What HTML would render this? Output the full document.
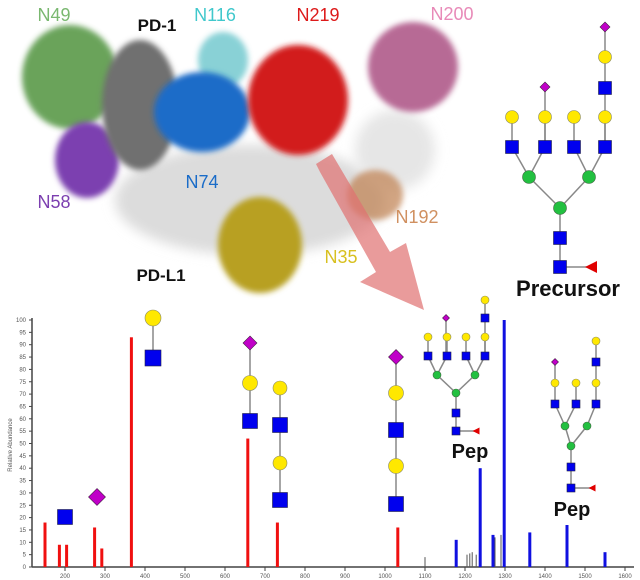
<!DOCTYPE html>
<html><head><meta charset="utf-8"><style>
html,body{margin:0;padding:0;background:#fff;width:640px;height:580px;overflow:hidden}
svg{display:block}
text{font-family:"Liberation Sans",sans-serif}
</style></head><body>
<svg id="root" width="640" height="580" viewBox="0 0 640 580">
<defs>
<filter id="bl" x="-50%" y="-50%" width="200%" height="200%"><feGaussianBlur stdDeviation="6"/></filter>
<filter id="bl2" x="-50%" y="-50%" width="200%" height="200%"><feGaussianBlur stdDeviation="3"/></filter>
</defs>
<g id="mol">
<ellipse cx="250" cy="200" rx="135" ry="55" fill="#dcdcdc" filter="url(#bl)"/>
<ellipse cx="395" cy="150" rx="40" ry="40" fill="#e6e6e6" filter="url(#bl)"/>
<ellipse cx="70" cy="77" rx="48" ry="52" fill="#5a9a4a" filter="url(#bl2)" opacity="0.9"/>
<ellipse cx="87" cy="160" rx="32" ry="38" fill="#7c3fb0" filter="url(#bl2)"/>
<ellipse cx="140" cy="105" rx="38" ry="65" fill="#707070" filter="url(#bl2)"/>
<ellipse cx="223" cy="60" rx="25" ry="28" fill="#6cc6cc" filter="url(#bl2)" opacity="0.8"/>
<ellipse cx="202" cy="112" rx="48" ry="40" fill="#1a6cc8" filter="url(#bl2)"/>
<ellipse cx="298" cy="100" rx="50" ry="55" fill="#d21a1a" filter="url(#bl2)"/>
<ellipse cx="413" cy="67" rx="45" ry="45" fill="#b05a8a" filter="url(#bl2)" opacity="0.9"/>
<ellipse cx="375" cy="195" rx="28" ry="25" fill="#c08050" filter="url(#bl2)" opacity="0.7"/>
<ellipse cx="260" cy="245" rx="42" ry="48" fill="#b8a020" filter="url(#bl2)"/>
<polygon points="316,164 332,154 390,252 406,243 424,310 360,282 376,272 320,172" fill="#e07070" opacity="0.7"/>
<text x="54" y="21" font-size="18" text-anchor="middle" fill="#7ab870">N49</text>
<text x="157" y="31" font-size="17" text-anchor="middle" font-weight="bold" fill="#111">PD-1</text>
<text x="215" y="21" font-size="18" text-anchor="middle" fill="#40c8cc">N116</text>
<text x="318" y="21" font-size="18" text-anchor="middle" fill="#dd1a1a">N219</text>
<text x="452" y="20" font-size="18" text-anchor="middle" fill="#e88ab8">N200</text>
<text x="202" y="188" font-size="18" text-anchor="middle" fill="#1a6cc8">N74</text>
<text x="54" y="208" font-size="18" text-anchor="middle" fill="#7c3fb0">N58</text>
<text x="417" y="223" font-size="18" text-anchor="middle" fill="#d09060">N192</text>
<text x="341" y="263" font-size="18" text-anchor="middle" fill="#d8c020">N35</text>
<text x="161" y="281" font-size="17" text-anchor="middle" font-weight="bold" fill="#111">PD-L1</text>
</g>
<g id="chart"></g>
<g id="glycans"></g>
</svg>
<script>
const mzRed=[150,186,204,274,292,366,657,731,1032];
const intRed=[18,9,9,16,7.5,93,52,18,16];
const mzBlue=[1178,1238,1270,1298,1362,1455,1550];
const intBlue=[11,40,13,100,14,17,6];
const mzGrey=[1100,1205,1212,1218,1228,1275,1290];
const intGrey=[4,5,5.5,6,5,12,13];
const yTicks=[0,5,10,15,20,25,30,35,40,45,50,55,60,65,70,75,80,85,90,95,100];
const xTicks=[200,300,400,500,600,700,800,900,1000,1100,1200,1300,1400,1500,1600];
const NS='http://www.w3.org/2000/svg';
const X=m=>65+(m-200)*0.4, Y=v=>567-v*2.47;
const chart=document.getElementById('chart');
function mk(t,a,p){const e=document.createElementNS(NS,t);for(const k in a)e.setAttribute(k,a[k]);(p||chart).appendChild(e);return e;}
let ax=mk('line',{x1:32,y1:567,x2:634,y2:567,stroke:'#444','stroke-width':1.5});


let ay=mk('line',{x1:32,y1:318,x2:32,y2:567,stroke:'#444','stroke-width':1.5});


yTicks.forEach(v=>{mk('line',{x1:29,x2:32,y1:Y(v),y2:Y(v),stroke:'#444'});
 const t=mk('text',{x:26,y:Y(v)+2,'font-size':6,'text-anchor':'end',fill:'#555'});t.textContent=v;
 
 });
xTicks.forEach(v=>{mk('line',{x1:X(v),x2:X(v),y1:567,y2:571,stroke:'#444'});
 const t=mk('text',{x:X(v),y:578,'font-size':6,'text-anchor':'middle',fill:'#555'});t.textContent=v;
 
 });
const yl=mk('text',{x:12,y:445,'font-size':6,fill:'#555','text-anchor':'middle',transform:'rotate(-90 12 445)'});yl.textContent='Relative Abundance';


function bars(ms,is,col,w,name){ms.forEach((m,i)=>{const b=mk('rect',{x:X(m)-w/2,y:Y(is[i]),width:w,height:567-Y(is[i]),fill:col});
 
 });}
bars(mzGrey,intGrey,'#555',1,'grey-peak');
bars(mzRed,intRed,'#f01010',3,'red-peak');
bars(mzBlue,intBlue,'#1010e0',3,'blue-peak');
const g=document.getElementById('glycans');
function ln(a,b,c,d){mk('line',{x1:a,y1:b,x2:c,y2:d,stroke:'#888','stroke-width':1.5},g);}
function sq(x,y,s){mk('rect',{x:x-s/2,y:y-s/2,width:s,height:s,fill:'#0000ee',stroke:'#224','stroke-width':0.6},g);}
function ci(x,y,s){mk('circle',{cx:x,cy:y,r:s/2,fill:'#ffe800',stroke:'#886','stroke-width':0.6},g);}
function gr(x,y,s){mk('circle',{cx:x,cy:y,r:s/2,fill:'#22c040',stroke:'#464','stroke-width':0.6},g);}
function di(x,y,s){const h=s/2;mk('polygon',{points:`${x},${y-h} ${x+h},${y} ${x},${y+h} ${x-h},${y}`,fill:'#c000c8',stroke:'#424','stroke-width':0.6},g);}
function fu(x,y,s){mk('polygon',{points:`${x-s/2},${y} ${x+s/2},${y-s/2} ${x+s/2},${y+s/2}`,fill:'#e00000'},g);}
// Precursor
(function(){const xs=[512,545,574,605];ln(605,27,605,147);ln(545,87,545,147);
 xs.forEach(x=>ln(x,117,x,147));ln(512,147,529,177);ln(545,147,529,177);ln(574,147,589,177);ln(605,147,589,177);
 ln(529,177,560,208);ln(589,177,560,208);ln(560,208,560,267);ln(560,267,590,267);
 di(605,27,10);ci(605,57,13);sq(605,88,13);di(545,87,10);
 xs.forEach(x=>{ci(x,117,13);sq(x,147,13);});gr(529,177,13);gr(589,177,13);gr(560,208,13);sq(560,238,13);sq(560,267,13);fu(591,267,12);})();
// Pep 1
(function(){const xs=[428,447,466,485];ln(485,300,485,356);ln(446,318,446,356);xs.forEach(x=>ln(x,337,x,356));
 ln(428,356,437,375);ln(447,356,437,375);ln(466,356,475,375);ln(485,356,475,375);ln(437,375,456,393);ln(475,375,456,393);ln(456,393,456,431);ln(456,431,476,431);
 ci(485,300,8);sq(485,318,8);di(446,318,7);xs.forEach(x=>{ci(x,337,8);sq(x,356,8);});gr(437,375,8);gr(475,375,8);gr(456,393,8);sq(456,413,8);sq(456,431,8);fu(476,431,7);})();
// Pep 2
(function(){const xs=[555,576,596];ln(596,341,596,404);ln(555,362,555,404);ln(576,383,576,404);
 ln(555,404,565,426);ln(576,404,565,426);ln(596,404,587,426);ln(565,426,571,446);ln(587,426,571,446);ln(571,446,571,488);ln(571,488,592,488);
 ci(596,341,8);sq(596,362,8);di(555,362,7);xs.forEach(x=>{ci(x,383,8);sq(x,404,8);});gr(565,426,8);gr(587,426,8);gr(571,446,8);sq(571,467,8);sq(571,488,8);fu(592,488,7);})();
// fragments
sq(65,517,15);di(97,497,17);
ln(153,318,153,358);ci(153,318,16);sq(153,358,16);
ln(250,343,250,421);di(250,343,14);ci(250,383,15);sq(250,421,15);
ln(280,388,280,500);ci(280,388,14);sq(280,425,15);ci(280,463,14);sq(280,500,15);
ln(396,357,396,504);di(396,357,15);ci(396,393,15);sq(396,430,15);ci(396,466,15);sq(396,504,15);
function lab(x,y,s,t,n){const e=mk('text',{x:x,y:y,'font-size':s,'font-weight':'bold','text-anchor':'middle',fill:'#111'},g);e.textContent=t;
 
 }
lab(568,296,22,'Precursor','precursor-label');
lab(470,458,20,'Pep','pep-label-1');
lab(572,516,20,'Pep','pep-label-2');
</script>
</body></html>
